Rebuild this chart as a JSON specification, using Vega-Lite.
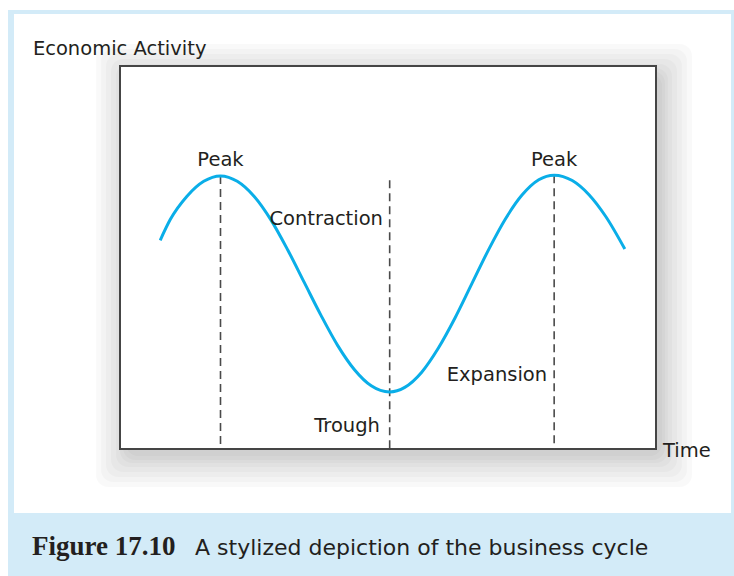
{
  "$schema": "https://vega.github.io/schema/vega-lite/v6.json",
  "width": 536,
  "height": 383,
  "autosize": {"type": "none"},
  "padding": {"left": 120, "top": 66, "right": 78, "bottom": 127},
  "background": "white",
  "config": {"view": {"stroke": null}},
  "datasets": {
    "frame": [{"x1": -3.343, "x2": 18.4, "y1": 114.6, "y2": -34}],
    "inner": [{"x1": -3.164, "x2": 18.24, "y1": 113.6, "y2": -16.7}],
    "shadow": [
      {"x1": -0.716, "x2": 17.075, "y1": 105.74, "y2": -9.92},
      {"x1": -0.567, "x2": 16.925, "y1": 104.44, "y2": -8.62},
      {"x1": -0.418, "x2": 16.776, "y1": 103.13, "y2": -7.31},
      {"x1": -0.269, "x2": 16.627, "y1": 101.83, "y2": -6.01},
      {"x1": -0.119, "x2": 16.478, "y1": 100.52, "y2": -4.7},
      {"x1": 0.0, "x2": 16.358, "y1": 99.48, "y2": -3.66},
      {"x1": 0.09, "x2": 16.269, "y1": 98.69, "y2": -2.87},
      {"x1": 0.179, "x2": 16.179, "y1": 97.91, "y2": -1.83}
    ],
    "box": [{"x1": 0, "x2": 16, "y1": 0, "y2": 100}],
    "cycle": [
      {"t": 1.2, "activity": 54.5},
      {"t": 1.5, "activity": 59.9},
      {"t": 2.0, "activity": 66.0},
      {"t": 2.5, "activity": 69.9},
      {"t": 3.0, "activity": 71.3},
      {"t": 3.5, "activity": 69.9},
      {"t": 4.0, "activity": 66.0},
      {"t": 4.5, "activity": 59.9},
      {"t": 5.0, "activity": 52.1},
      {"t": 5.5, "activity": 43.5},
      {"t": 6.0, "activity": 34.9},
      {"t": 6.5, "activity": 27.0},
      {"t": 7.0, "activity": 20.7},
      {"t": 7.5, "activity": 16.5},
      {"t": 8.05, "activity": 14.9},
      {"t": 8.5, "activity": 16.1},
      {"t": 9.0, "activity": 20.0},
      {"t": 9.5, "activity": 26.3},
      {"t": 10.0, "activity": 34.2},
      {"t": 10.5, "activity": 43.1},
      {"t": 11.0, "activity": 52.0},
      {"t": 11.5, "activity": 60.0},
      {"t": 12.0, "activity": 66.3},
      {"t": 12.5, "activity": 70.3},
      {"t": 12.96, "activity": 71.5},
      {"t": 13.5, "activity": 70.1},
      {"t": 14.0, "activity": 66.4},
      {"t": 14.5, "activity": 60.7},
      {"t": 15.07, "activity": 52.2}
    ],
    "markers": [
      {"t": 3.0, "top": 71.3},
      {"t": 8.05, "top": 70.2},
      {"t": 12.96, "top": 71.5}
    ],
    "centerLabels": [
      {"x": 3.0, "y": 73.9, "label": "Peak"},
      {"x": 12.96, "y": 73.9, "label": "Peak"}
    ],
    "rightLabels": [
      {"x": 7.85, "y": 58.5, "label": "Contraction"},
      {"x": 7.76, "y": 4.4, "label": "Trough"},
      {"x": 12.75, "y": 17.8, "label": "Expansion"}
    ],
    "leftLabels": [
      {"x": 16.21, "y": -2.1, "label": "Time"},
      {"x": -2.6, "y": 102.9, "label": "Economic Activity"}
    ],
    "captionNum": [{"x": -2.63, "y": -27.7, "label": "Figure 17.10"}],
    "captionText": [{"x": 2.24, "y": -27.7, "label": "A stylized depiction of the business cycle"}]
  },
  "layer": [
    {
      "data": {"name": "frame"},
      "mark": {"type": "rect", "color": "#d3ebf8"},
      "encoding": {
        "x": {"field": "x1", "type": "quantitative", "scale": {"domain": [0, 16], "nice": false, "zero": false}, "axis": null},
        "x2": {"field": "x2"},
        "y": {"field": "y1", "type": "quantitative", "scale": {"domain": [0, 100], "nice": false, "zero": false}, "axis": null},
        "y2": {"field": "y2"}
      }
    },
    {
      "data": {"name": "inner"},
      "mark": {"type": "rect", "color": "white"},
      "encoding": {
        "x": {"field": "x1", "type": "quantitative"},
        "x2": {"field": "x2"},
        "y": {"field": "y1", "type": "quantitative"},
        "y2": {"field": "y2"}
      }
    },
    {
      "data": {"name": "shadow"},
      "mark": {"type": "rect", "color": "black", "opacity": 0.022, "cornerRadius": 12},
      "encoding": {
        "x": {"field": "x1", "type": "quantitative"},
        "x2": {"field": "x2"},
        "y": {"field": "y1", "type": "quantitative"},
        "y2": {"field": "y2"}
      }
    },
    {
      "data": {"name": "box"},
      "mark": {"type": "rect", "fill": "white", "stroke": "#454545", "strokeWidth": 2},
      "encoding": {
        "x": {"field": "x1", "type": "quantitative"},
        "x2": {"field": "x2"},
        "y": {"field": "y1", "type": "quantitative"},
        "y2": {"field": "y2"}
      }
    },
    {
      "data": {"name": "markers"},
      "mark": {"type": "rule", "color": "#4a4a4a", "strokeWidth": 1.6, "strokeDash": [8, 5]},
      "encoding": {
        "x": {"field": "t", "type": "quantitative"},
        "y": {"field": "top", "type": "quantitative"},
        "y2": {"datum": 0}
      }
    },
    {
      "data": {"name": "cycle"},
      "mark": {"type": "line", "color": "#0aaee8", "strokeWidth": 3, "interpolate": "monotone"},
      "encoding": {
        "x": {"field": "t", "type": "quantitative"},
        "y": {"field": "activity", "type": "quantitative"}
      }
    },
    {
      "data": {"name": "centerLabels"},
      "mark": {"type": "text", "align": "center", "baseline": "alphabetic", "font": "DejaVu Sans", "fontSize": 19.5, "color": "#231f20"},
      "encoding": {
        "x": {"field": "x", "type": "quantitative"},
        "y": {"field": "y", "type": "quantitative"},
        "text": {"field": "label"}
      }
    },
    {
      "data": {"name": "rightLabels"},
      "mark": {"type": "text", "align": "right", "baseline": "alphabetic", "font": "DejaVu Sans", "fontSize": 19.5, "color": "#231f20"},
      "encoding": {
        "x": {"field": "x", "type": "quantitative"},
        "y": {"field": "y", "type": "quantitative"},
        "text": {"field": "label"}
      }
    },
    {
      "data": {"name": "leftLabels"},
      "mark": {"type": "text", "align": "left", "baseline": "alphabetic", "font": "DejaVu Sans", "fontSize": 19.5, "color": "#231f20"},
      "encoding": {
        "x": {"field": "x", "type": "quantitative"},
        "y": {"field": "y", "type": "quantitative"},
        "text": {"field": "label"}
      }
    },
    {
      "data": {"name": "captionNum"},
      "mark": {"type": "text", "align": "left", "baseline": "alphabetic", "font": "Liberation Serif", "fontWeight": "bold", "fontSize": 27, "color": "#231f20"},
      "encoding": {
        "x": {"field": "x", "type": "quantitative"},
        "y": {"field": "y", "type": "quantitative"},
        "text": {"field": "label"}
      }
    },
    {
      "data": {"name": "captionText"},
      "mark": {"type": "text", "align": "left", "baseline": "alphabetic", "font": "DejaVu Sans", "fontSize": 22, "color": "#231f20"},
      "encoding": {
        "x": {"field": "x", "type": "quantitative"},
        "y": {"field": "y", "type": "quantitative"},
        "text": {"field": "label"}
      }
    }
  ]
}
